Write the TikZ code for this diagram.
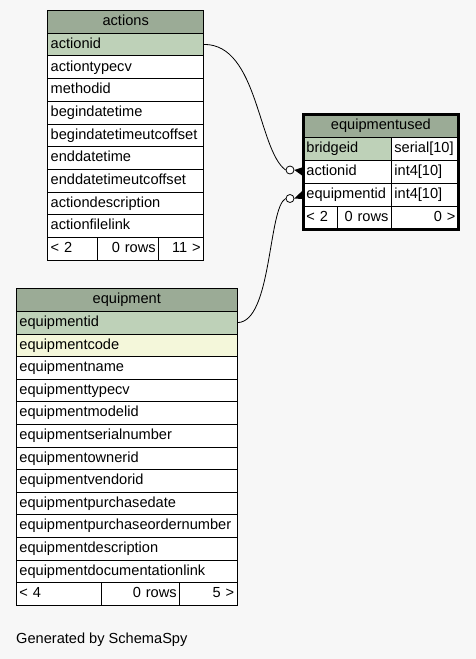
\documentclass[tikz,border=0pt]{standalone}
\usepackage{fontspec}
\setmainfont{Liberation Sans}
\usetikzlibrary{calc}
\definecolor{bgc}{HTML}{F7F7F7}
\definecolor{headc}{HTML}{9BAB96}
\definecolor{pkc}{HTML}{BED1B8}
\definecolor{idxc}{HTML}{F4F7DA}
\begin{document}
\begin{tikzpicture}[x=1pt,y=-1pt,
  font=\fontsize{14.6}{16.5}\selectfont,
  cell/.style={draw=black, line width=0.8pt, fill=white, rectangle, anchor=north west,
    inner xsep=3pt, inner ysep=0pt, text height=10.8pt, text depth=3pt, align=left},
  head/.style={cell, fill=headc, align=center},
  pk/.style={cell, fill=pkc},
  idx/.style={cell, fill=idxc},
  rcell/.style={cell, align=right},
  conn/.style={line width=0.8pt, draw=black},
  odot/.style={circle, draw=black, fill=white, line width=0.8pt, minimum size=8pt, inner sep=0pt}
]
\useasboundingbox[fill=bgc] (0,0) rectangle (476,659);

% ---------- actions ----------
\begin{scope}[every node/.append style={minimum height=22.7pt}]
\node[head, text width=150pt] (a0) at (47.3,10) {actions};
\node[pk, text width=150pt] (a1) at (47.3,32.7) {actionid};
\foreach \i/\t in {2/actiontypecv,3/methodid,4/begindatetime,5/begindatetimeutcoffset,6/enddatetime,7/enddatetimeutcoffset,8/actiondescription,9/actionfilelink}
  \node[cell, text width=150pt] (a\i) at (47.3,{10+22.7*\i}) {\t};
\node[cell, text width=43.4pt] (a10l) at (47.3,237) {< 2};
\node[rcell, text width=55.6pt] (a10m) at (96.7,237) {0 rows};
\node[rcell, text width=39pt] (a10r) at (158.3,237) {11 >};
\end{scope}

% ---------- equipment ----------
\begin{scope}[every node/.append style={minimum height=22.6pt}]
\node[head, text width=214.7pt] (e0) at (16,288.3) {equipment};
\node[pk, text width=214.7pt] (e1) at (16,310.9) {equipmentid};
\node[idx, text width=214.7pt] (e2) at (16,333.5) {equipmentcode};
\foreach \i/\t in {3/equipmentname,4/equipmenttypecv,5/equipmentmodelid,6/equipmentserialnumber,7/equipmentownerid,8/equipmentvendorid,9/equipmentpurchasedate,10/equipmentpurchaseordernumber,11/equipmentdescription,12/equipmentdocumentationlink}
  \node[cell, text width=214.7pt] (e\i) at (16,{288.3+22.6*\i}) {\t};
\node[cell, text width=78.7pt] (e13l) at (16,582.1) {< 4};
\node[rcell, text width=72.6pt] (e13m) at (100.7,582.1) {0 rows};
\node[rcell, text width=51.4pt] (e13r) at (179.3,582.1) {5 >};
\end{scope}

% ---------- equipmentused ----------
\begin{scope}[every node/.append style={minimum height=22.9pt}]
\node[head, text width=149pt] (u0) at (303,114) {equipmentused};
\node[pk, text width=82pt] (u1) at (303,136.9) {bridgeid};
\node[cell, text width=61pt] (u1t) at (391,136.9) {serial[10]};
\node[cell, text width=82pt] (u2) at (303,159.8) {actionid};
\node[cell, text width=61pt] (u2t) at (391,159.8) {int4[10]};
\node[cell, text width=82pt] (u3) at (303,182.7) {equipmentid};
\node[cell, text width=61pt] (u3t) at (391,182.7) {int4[10]};
\node[cell, text width=27.7pt] (u4l) at (303,205.6) {< 2};
\node[rcell, text width=48.3pt] (u4m) at (336.7,205.6) {0 rows};
\node[rcell, text width=61pt] (u4r) at (391,205.6) {0 >};
\end{scope}
\draw[line width=3pt] (u0.north west) rectangle (u4r.south east);

% ---------- connectors ----------
\node[odot] (c1) at (290,170) {};
\node[odot] (c2) at (290,198.5) {};
\draw[conn] (a1.east) .. controls (258,44) and (258,150) .. (c1.west);
\draw[conn] (e1.east) .. controls (272,322) and (268,208) .. (c2.west);
\fill[black] (c1.east) -- ($(u2.west)+(0,-4.5)$) -- ($(u2.west)+(0,4.5)$) -- cycle;
\fill[black] (c2.east) -- ($(u3.west)+(0,-4.5)$) -- ($(u3.west)+(0,4.5)$) -- cycle;

\node[anchor=west, inner sep=0pt] (gen) at (16,640) {Generated by SchemaSpy};
\end{tikzpicture}
\end{document}
